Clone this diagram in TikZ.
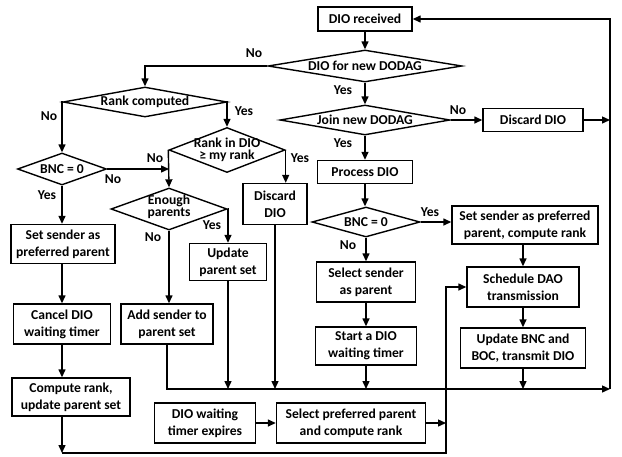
\documentclass[tikz,border=0pt]{standalone}
\usepackage{fontspec}
\setmainfont{Carlito}
\usetikzlibrary{arrows.meta,shapes.geometric}

\tikzset{
  blk/.style={draw, line width=1.4pt, align=center, inner sep=1pt},
  decision/.style={diamond, draw, line width=1.4pt, inner sep=0pt},
  dtxt/.style={align=center, font=\fontsize{13.6}{12.5}\selectfont\bfseries},
  arr/.style={line width=1.4pt, -{Triangle[length=8pt,width=7pt]}}
}

\begin{document}
\begin{tikzpicture}[x=1pt, y=-1pt, font=\fontsize{13.6}{17}\selectfont\bfseries]
\useasboundingbox (0,0) rectangle (622,456);

% middle column
\node[blk, minimum width=94pt, minimum height=24pt] (recv) at (365,19) {DIO received};
\node[decision, minimum width=194pt, minimum height=32pt, label={[dtxt]center:DIO for new DODAG}] (newd) at (365,66) {};
\node[decision, minimum width=170pt, minimum height=30pt, label={[dtxt]center:Join new DODAG}] (join) at (365,120) {};
\node[blk, minimum width=100pt, minimum height=23pt] (disc1) at (533,120) {Discard DIO};
\node[blk, minimum width=95pt, minimum height=23pt] (proc) at (365,172) {Process DIO};
\node[decision, minimum width=108pt, minimum height=30pt, label={[dtxt]center:BNC = 0}] (bnc2) at (366,222) {};
\node[blk, minimum width=146pt, minimum height=38pt] (sets) at (525,225) {Set sender as preferred\\parent, compute rank};
\node[blk, minimum width=99pt, minimum height=40pt] (sels) at (366,282) {Select sender\\as parent};
\node[blk, minimum width=101pt, minimum height=38pt] (start) at (366,346) {Start a DIO\\waiting timer};
\node[blk, minimum width=112pt, minimum height=40pt] (sched) at (523,287) {Schedule DAO\\transmission};
\node[blk, minimum width=125pt, minimum height=40pt] (updb) at (523,348) {Update BNC and\\BOC, transmit DIO};

% left part
\node[decision, minimum width=164pt, minimum height=30pt, label={[dtxt]center:Rank computed}] (rank) at (145,102) {};
\node[decision, minimum width=116pt, minimum height=45pt, label={[dtxt]center:Rank in DIO\\≥ my rank}] (rkin) at (227,150) {};
\node[decision, minimum width=89pt, minimum height=32pt, label={[dtxt]center:BNC = 0}] (bnc1) at (62,169) {};
\node[decision, minimum width=116pt, minimum height=42pt, label={[dtxt, yshift=2pt]center:Enough\\parents}] (enough) at (169,209) {};
\node[blk, minimum width=64pt, minimum height=41pt] (disc2) at (275,204) {Discard\\DIO};
\node[blk, minimum width=104pt, minimum height=39pt] (setp) at (63,244) {Set sender as\\preferred parent};
\node[blk, minimum width=77pt, minimum height=37pt] (upd) at (228,262) {Update\\parent set};
\node[blk, minimum width=97pt, minimum height=40pt] (cancel) at (62,324) {Cancel DIO\\waiting timer};
\node[blk, minimum width=92pt, minimum height=40pt] (addp) at (167,324) {Add sender to\\parent set};
\node[blk, minimum width=118pt, minimum height=38pt] (comp) at (71,397) {Compute rank,\\update parent set};
\node[blk, minimum width=101pt, minimum height=40pt] (timer) at (205,423) {DIO waiting\\timer expires};
\node[blk, minimum width=149pt, minimum height=40pt] (selp) at (351,423) {Select preferred parent\\and compute rank};

\coordinate (rb) at (610,389);
\coordinate (lb) at (446,453);

% yes / no
\node (no1) at (254,53) {No};
\node (yes1) at (343,90) {Yes};
\node (no2) at (458,110) {No};
\node (yes2) at (343,143) {Yes};
\node (yes3) at (430,212) {Yes};
\node (no3) at (348,245) {No};
\node (no4) at (49,116) {No};
\node (yes4) at (244,111) {Yes};
\node (no5) at (155,158) {No};
\node (yes5) at (300,158) {Yes};
\node (no6) at (113,179) {No};
\node (yes6) at (47,195) {Yes};
\node (yes7) at (212,225) {Yes};
\node (no7) at (153,237) {No};

\draw[arr] (recv) -- (newd);
\draw[arr] (newd) -- (join);
\draw[arr] (join) -- (disc1);
\draw[arr] (disc1) -- (disc1 -| rb);
\draw[arr] (rb) |- (recv.east);
\draw[arr] (join) -- (proc);
\draw[arr] (proc.south) -- (proc.south |- bnc2.north);
\draw[arr] (bnc2.east) -- (bnc2.east -| sets.west);
\draw[arr] (bnc2) -- (sels);
\draw[arr] (sels) -- (start);
\draw[arr] (start) -- (start |- rb);
\draw[arr] (sets.south -| sched) -- (sched);
\draw[arr] (sched) -- (updb);
\draw[arr] (updb) -- (updb |- rb);

\draw[arr] (newd.west) -| (rank.north);
\draw[arr] (rank.west) -| (bnc1.north);
\draw[arr] (rank.east) -| (rkin.north);
\draw[arr] (rkin.west) -- (enough.north);
\draw[arr] (bnc1.east) -- (bnc1.east -| enough.north);
\draw[arr] (rkin.east) -- (rkin.east |- disc2.north);
\draw[arr] (bnc1.south) -- (bnc1.south |- setp.north);
\draw[arr] (enough.east) -| (upd.north);
\draw[arr] (enough.south) -- (enough.south |- addp.north);
\draw[arr] (setp.south -| cancel) -- (cancel);
\draw[arr] (cancel) -- (cancel |- comp.north);
\draw[arr] (cancel |- comp.south) -- (cancel |- lb);
\draw[arr] (cancel |- lb) -- (lb) |- (sched.west);
\draw[arr] (upd) -- (upd |- rb);
\draw[arr] (disc2) -- (disc2 |- rb);
\draw[arr] (addp.south) |- (rb);
\draw[arr] (timer) -- (selp);
\draw[arr] (selp) -- (selp -| lb);
\end{tikzpicture}
\end{document}
